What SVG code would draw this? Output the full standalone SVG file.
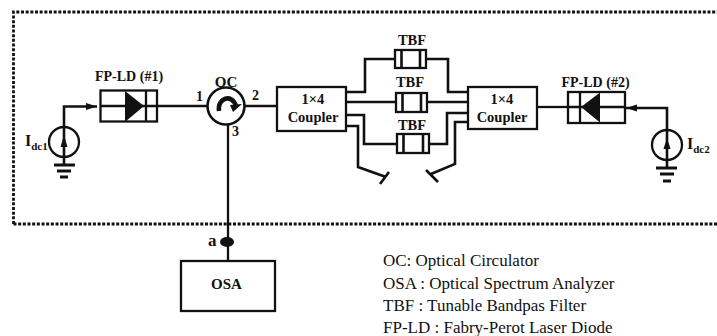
<svg xmlns="http://www.w3.org/2000/svg" width="717" height="336" viewBox="0 0 717 336">
<style>
text{font-family:"Liberation Serif","Times New Roman",serif;fill:#111}
.b{font-weight:bold;font-size:14px}
.c{font-weight:bold;font-size:14.500px;text-anchor:middle}
.n{font-size:17px}
.l{fill:none;stroke:#111;stroke-width:2.300}
.t{fill:none;stroke:#111;stroke-width:2.600}
.g{fill:none;stroke:#111;stroke-width:2.800}
.d{fill:none;stroke:#111;stroke-width:2.800;stroke-dasharray:3 1.670}
.box{fill:#fff;stroke:#111;stroke-width:2.300}
.f{fill:#111;stroke:none}
</style>
<defs>
<marker id="ah" markerUnits="userSpaceOnUse" markerWidth="11" markerHeight="8" refX="11" refY="4" orient="auto"><path d="M0 0.500L11 4L0 7.500Z" fill="#111"/></marker>
</defs>
<path id="border" class="d" d="M13.500 224V12H717M13.500 224H717"/>
<g id="connectors">
<path class="l" d="M157 106H208"/>
<path class="l" d="M244 106H277"/>
<path class="l" d="M228 124V261"/>
<path class="t" d="M346 92H365V59H395"/>
<path class="t" d="M426 59H448V92H468"/>
<path class="t" d="M346 102H396"/>
<path class="t" d="M427 102H468"/>
<path class="t" d="M346 115H364V144H397"/>
<path class="t" d="M429 144H447V113H468"/>
<path class="t" d="M346 126H358V167L386 177"/>
<path class="t" d="M468 122H455V164L431 174"/>
<path class="t" d="M389 172L380 184"/>
<path class="t" d="M426 170L438 182"/>
<path class="l" d="M537 107H568"/>
<path class="t" d="M64 165V106.500H97" marker-end="url(#ah)"/>
<path class="t" d="M667 168V108H626" marker-end="url(#ah)"/>
</g>
<g id="fpld1">
<rect class="box" x="100.500" y="90.500" width="56.500" height="31"/>
<path class="l" d="M101 106H157M146 90V122"/>
<path class="f" d="M125 91L144 106L125 122Z"/>
<text class="b" x="95" y="81">FP-LD (#1)</text>
</g>
<g id="fpld2">
<rect class="box" x="568" y="92" width="57" height="31"/>
<path class="l" d="M568 107H625M580 92V123"/>
<path class="f" d="M600 92.500L581 107L600 122.500Z"/>
<text class="b" x="561.500" y="87">FP-LD (#2)</text>
</g>
<g id="oc">
<circle cx="226" cy="106" r="18.500" fill="#fff" stroke="#111" stroke-width="2.600"/>
<path d="M219 111C217 98 232 93 236 106" fill="none" stroke="#111" stroke-width="4.500"/>
<path class="f" d="M230 105L242 104L233 112Z"/>
<text class="c" x="226" y="87" style="font-size:15px">OC</text>
<text class="b" x="196" y="101">1</text>
<text class="b" x="252" y="100">2</text>
<text class="b" x="232" y="136">3</text>
</g>
<g id="coupler1">
<rect class="box" x="277" y="87" width="69" height="44"/>
<text class="c" x="313" y="104">1×4</text>
<text class="c" x="313" y="122">Coupler</text>
</g>
<g id="coupler2">
<rect class="box" x="468" y="87" width="69" height="42"/>
<text class="c" x="502" y="104">1×4</text>
<text class="c" x="502" y="122">Coupler</text>
</g>
<g id="tbf1">
<rect class="box" x="395" y="50" width="31" height="18"/>
<path class="t" d="M401.500 50V68M420 50V68"/>
<text class="c" x="412" y="45">TBF</text>
</g>
<g id="tbf2">
<rect class="box" x="396" y="93" width="31" height="19"/>
<path class="t" d="M402.500 93V112M421 93V112"/>
<text class="c" x="410" y="87">TBF</text>
</g>
<g id="tbf3">
<rect class="box" x="397" y="134" width="32" height="19"/>
<path class="t" d="M403.500 134V153M423 134V153"/>
<text class="c" x="412" y="130">TBF</text>
</g>
<g id="src1">
<circle cx="64" cy="142" r="15" fill="none" stroke="#111" stroke-width="2.300"/>
<path class="f" d="M64 135L67.500 147H60.500Z"/>
<path class="g" d="M54 165H75M57 171H71M60 177H68"/>
<text x="25" y="146" font-weight="bold" font-size="16">I<tspan font-size="11" dy="4">dc1</tspan></text>
</g>
<g id="src2">
<circle cx="667" cy="145" r="15" fill="none" stroke="#111" stroke-width="2.300"/>
<path class="f" d="M667 138L670.500 149H663.500Z"/>
<path class="g" d="M656 168H677M660 174H674M663 181H671"/>
<text x="687" y="149" font-weight="bold" font-size="16">I<tspan font-size="11" dy="4">dc2</tspan></text>
</g>
<g id="a">
<ellipse cx="227" cy="242" rx="7" ry="5" class="f"/>
<text x="208" y="246" font-weight="bold" font-size="17">a</text>
</g>
<g id="osa">
<rect class="box" x="181" y="261" width="94" height="50"/>
<text class="c" x="226.500" y="289" style="font-size:15px">OSA</text>
</g>
<g id="legend">
<text class="n" x="383" y="266">OC: Optical Circulator</text>
<text class="n" x="383" y="289">OSA : Optical Spectrum Analyzer</text>
<text class="n" x="383" y="311">TBF : Tunable Bandpas Filter</text>
<text class="n" x="383" y="333">FP-LD : Fabry-Perot Laser Diode</text>
</g>
</svg>
